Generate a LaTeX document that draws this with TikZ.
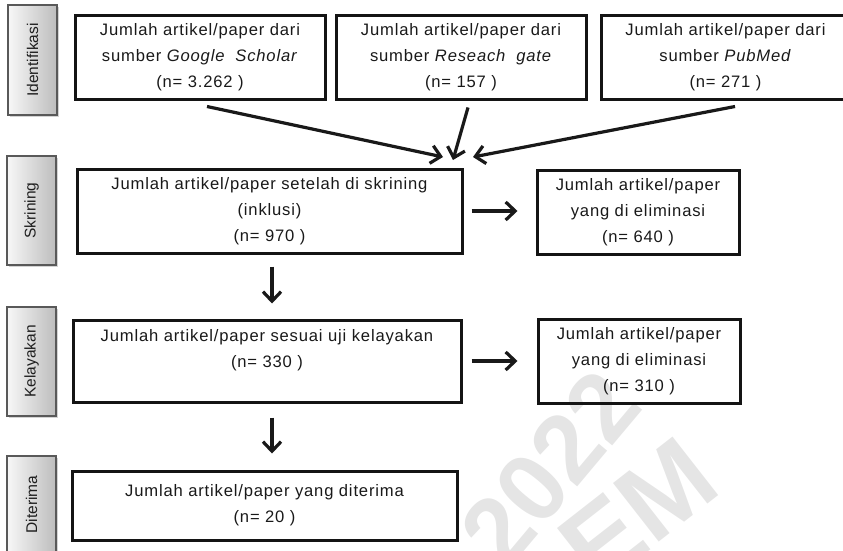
\documentclass[tikz,border=0pt]{standalone}
\usepackage{fontspec}
\setmainfont{Liberation Sans}
\newfontfamily\boxfont{Liberation Sans}[LetterSpace=5]
\usetikzlibrary{arrows.meta,shadows}

\begin{document}
\begin{tikzpicture}[x=1pt,y=-1pt,
  flowbox/.style={draw=black!92, line width=3pt, align=center, inner sep=0pt,
    font=\boxfont\fontsize{16.6}{26}\selectfont, text=black!90},
  stagebox/.style={draw=black!65, line width=1.1pt, inner sep=0pt,
    left color=black!3, right color=black!26,
    drop shadow={shadow xshift=1.6pt, shadow yshift=-1.6pt, opacity=0.35}},
  stagetext/.style={rotate=90, inner sep=0pt, font=\fontsize{15.5}{18}\selectfont, text=black!88},
  arr/.style={line width=3.2pt, draw=black!90, -{Straight Barb[length=9.5pt,width=18pt]}},
  wmtext/.style={text=black!10, inner sep=0pt, font=\bfseries\fontsize{97}{97}\selectfont}
]
\clip (0,0) rectangle (843,551);
\useasboundingbox (0,0) rectangle (843,551);

% faint watermark
\node[wmtext, rotate=50] (wm1) at (550,468) {2022};
\node[wmtext, rotate=38, font=\bfseries\fontsize{108}{108}\selectfont] (wm2) at (638,512) {EM};

% stage labels on the left
\node[stagebox, minimum width=49pt, minimum height=110pt] (s1) at (32.5,60) {};
\node[stagetext] (s1t) at (s1) {Identifikasi};
\node[stagebox, minimum width=49pt, minimum height=109pt] (s2) at (31.5,210.5) {};
\node[stagetext] (s2t) at (s2) {Skrining};
\node[stagebox, minimum width=49pt, minimum height=109pt] (s3) at (31.5,361.5) {};
\node[stagetext] (s3t) at (s3) {Kelayakan};
\node[stagebox, minimum width=49pt, minimum height=97pt] (s4) at (31.5,504.5) {};
\node[stagetext] (s4t) at (s4) {Diterima};

% identification sources
\node[flowbox, minimum width=250pt, minimum height=83pt] (g) at (200,57.5)
  {Jumlah artikel/paper dari\\ sumber \textit{Google\ \ Scholar}\\ (n= 3.262 )};
\node[flowbox, minimum width=250pt, minimum height=83pt] (r) at (461,57.5)
  {Jumlah artikel/paper dari\\ sumber \textit{Reseach\ \ gate}\\ (n= 157 )};
\node[flowbox, minimum width=249pt, minimum height=83pt] (p) at (725.5,57.5)
  {Jumlah artikel/paper dari\\ sumber \textit{PubMed}\\ (n= 271 )};

% screening
\node[flowbox, minimum width=385pt, minimum height=84pt] (skr) at (269.5,211)
  {Jumlah artikel/paper setelah di skrining\\ (inklusi)\\ (n= 970 )};
\node[flowbox, minimum width=202pt, minimum height=84pt] (el1) at (638,212)
  {Jumlah artikel/paper\\ yang di eliminasi\\ (n= 640 )};

% eligibility
\node[flowbox, minimum width=388pt, minimum height=82pt] (kel) at (267,361)
  {Jumlah artikel/paper sesuai uji kelayakan\\ (n= 330 )\\ \mbox{}};
\node[flowbox, minimum width=202pt, minimum height=84pt] (el2) at (639,361)
  {Jumlah artikel/paper\\ yang di eliminasi\\ (n= 310 )};

% accepted
\node[flowbox, minimum width=385pt, minimum height=69pt] (dit) at (264.5,505.5)
  {Jumlah artikel/paper yang diterima\\ (n= 20 )};

% merge points above the screening box
\coordinate (m1) at (443,157);
\coordinate (m2) at (453,160);
\coordinate (m3) at (473,157);

\draw[arr] ([shift={(7,6)}]g.south) -- (m1);
\draw[arr] ([shift={(7,7)}]r.south) -- (m2);
\draw[arr] ([shift={(9.5,6)}]p.south) -- (m3);

\draw[arr] ([shift={(2.5,12)}]skr.south) -- ([shift={(5,-15)}]kel.north);
\draw[arr] ([shift={(5,14)}]kel.south) -- ([shift={(7.5,-16)}]dit.north);
\draw[arr] ([shift={(8,0)}]skr.east) -- ([shift={(-18,-1)}]el1.west);
\draw[arr] ([shift={(9,0)}]kel.east) -- ([shift={(-19,0)}]el2.west);
\end{tikzpicture}
\end{document}
